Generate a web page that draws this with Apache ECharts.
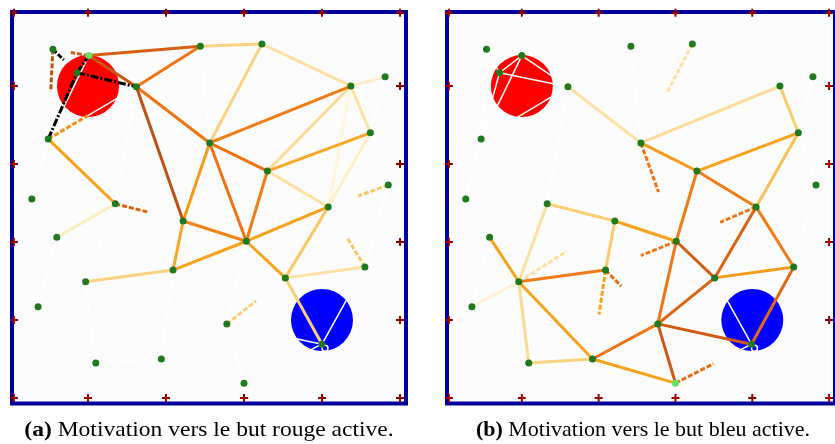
<!DOCTYPE html>
<html><head><meta charset="utf-8">
<script src="https://cdn.jsdelivr.net/npm/echarts@6/dist/echarts.min.js"></script>
<style>html,body{margin:0;padding:0;background:#fff}#c{width:835px;height:444px}</style>
</head><body><div id="c"></div>
<script>
// ---- data (world units, metres) ----
const nodesA = [[0.55,4.47],[1.01,4.39],[0.86,4.17],[1.62,3.99],[0.49,3.32],[0.28,2.55],[1.35,2.49],[2.44,4.51],[2.56,3.27],[3.23,4.54],[4.37,4.00],[4.81,4.12],[4.62,3.40],[2.22,2.27],[3.30,2.91],[4.85,2.73],[4.08,2.45],[3.03,2.01],[3.53,1.54],[4.55,1.68],[2.78,0.95],[4.00,0.69],[3.00,0.19],[0.60,2.06],[0.97,1.49],[2.09,1.64],[0.36,1.17],[1.10,0.45],[1.94,0.50]];
const nodesB = [[0.54,4.47],[1.00,4.39],[0.71,4.17],[1.60,3.99],[0.47,3.32],[0.27,2.55],[1.33,2.49],[2.42,4.51],[2.55,3.27],[3.22,4.54],[4.36,4.00],[4.79,4.12],[4.60,3.40],[2.21,2.27],[3.28,2.91],[4.83,2.73],[4.05,2.45],[3.01,2.01],[3.51,1.54],[4.54,1.68],[2.77,0.95],[3.99,0.69],[3.00,0.19],[0.58,2.06],[0.96,1.49],[2.09,1.64],[0.35,1.17],[1.09,0.45],[1.92,0.50]];
const robotA = 1;
const robotB = 22;
const goalNodeA = 21;
const goalNodeB = 21;
const goalRed = [1, 4];
const goalBlue = [4, 1];
const xCross = [0.05, 1, 2, 3, 4, 5];
const yCross = [0, 1, 2, 3, 4, 4.94];
// edges: [from, to, weight]
const edgesA = [[1,7,0.8],[7,3,0.72],[1,3,0.83],[2,3,1.0],[4,2,1.0],[2,1,1.0],[4,6,0.6],[3,8,0.72],[3,13,0.85],[8,13,0.62],[7,9,0.38],[9,8,0.38],[9,10,0.3],[10,8,0.7],[10,12,0.28],[10,14,0.33],[12,14,0.58],[8,14,0.72],[8,17,0.72],[14,17,0.7],[13,17,0.68],[17,16,0.6],[17,18,0.6],[16,18,0.45],[18,19,0.3],[25,13,0.58],[25,17,0.6],[24,25,0.38],[6,23,0.2],[14,16,0.3],[10,11,0.18],[10,16,0.12],[12,16,0.18],[18,21,0.4],
  [0,4,0],[1,4,0],[4,5,0],[5,23,0],[23,24,0],[24,26,0],[24,27,0],[27,28,0],[28,25,0],[28,20,0],[20,22,0],[22,21,0],[21,19,0],[20,21,0],[17,20,0],[15,19,0],[15,12,0],[11,12,0],[3,4,0],[3,6,0],[7,8,0],[26,23,0],[6,24,0],[15,16,0],[19,16,0]];
// partial traces: [from, to, weight, fraction]
const partialA = [[0,2,1.0,0.45],[0,4,0.85,0.47],[1,0,0.8,0.5],[4,3,0.65,0.45],[6,13,0.78,0.48],[15,16,0.45,0.5],[19,16,0.45,0.5],[20,18,0.4,0.5]];
const edgesB = [[3,8,0.28],[8,10,0.32],[10,12,0.42],[8,14,0.62],[14,12,0.6],[12,16,0.48],[14,16,0.7],[14,17,0.7],[13,17,0.6],[17,18,0.8],[18,16,0.78],[18,19,0.62],[16,19,0.7],[19,21,0.76],[18,20,0.78],[20,21,0.82],[20,22,0.82],[28,22,0.6],[28,20,0.72],[17,20,0.72],[6,13,0.4],[6,24,0.3],[23,24,0.6],[24,25,0.7],[24,28,0.6],[24,27,0.33],[27,28,0.38],[24,26,0.15],[13,25,0.42],
  [0,2,0],[1,2,0],[0,4,0],[2,4,0],[1,3,0],[2,3,0],[1,4,0],[4,3,0],[4,5,0],[5,23,0],[3,7,0],[7,9,0],[9,10,0],[10,11,0],[11,12,0],[12,15,0],[15,19,0],[18,21,0.03],[3,6,0],[7,8,0],[26,27,0],[23,26,0],[22,21,0],[20,28,0]];
const partialB = [[9,8,0.3,0.5],[8,17,0.72,0.5],[24,13,0.3,0.5],[25,28,0.6,0.5],[25,20,0.75,0.3],[22,21,0.75,0.5],[16,17,0.72,0.45],[17,25,0.72,0.5]];
const captionA = ['(a)', ' Motivation vers le but rouge active.'];
const captionB = ['(b)', ' Motivation vers le but bleu active.'];

// ---- styling ----
const ramp = [[0,'#ffffff'],[0.15,'#fff2d2'],[0.3,'#fde0a2'],[0.45,'#fcc662'],[0.6,'#f7a21a'],[0.72,'#f07414'],[0.84,'#c65412'],[0.93,'#7a3010'],[1,'#000000']];
function hex(c){return [1,3,5].map(k=>parseInt(c.substr(k,2),16));}
function rampColor(w){
  for(let k=1;k<ramp.length;k++){
    if(w<=ramp[k][0]){
      const a=ramp[k-1],b=ramp[k];const f=(w-a[0])/(b[0]-a[0]);
      const ca=hex(a[1]),cb=hex(b[1]);
      return 'rgb('+ca.map((v,m)=>Math.round(v+(cb[m]-v)*f)).join(',')+')';
    }
  }
  return ramp[ramp.length-1][1];
}
function buildLines(nodes, full, partial){
  const all=[];
  full.forEach(e=>all.push({i:e[0],j:e[1],w:e[2],t:1,p:false}));
  partial.forEach(e=>all.push({i:e[0],j:e[1],w:e[2],t:e[3],p:true}));
  all.sort((a,b)=>a.w-b.w);
  return all.map(e=>{
    const p=nodes[e.i],q=nodes[e.j];
    const end=[p[0]+(q[0]-p[0])*e.t,p[1]+(q[1]-p[1])*e.t];
    const type=e.p?[5,2]:(e.w>=0.95?[8,2,2,2]:'solid');
    return {coords:[p,end],lineStyle:{color:rampColor(e.w),width:e.w<0.05?1.5:3,type:type,opacity:1}};
  });
}
const crossPath='path://M3,0H5V3H8V5H5V8H3V5H0V3H3Z';
function crosses(){
  const out=[];
  xCross.forEach(x=>{out.push([x,yCross[0]]);out.push([x,yCross[yCross.length-1]]);});
  yCross.slice(1,-1).forEach(y=>{out.push([xCross[0],y]);out.push([xCross[xCross.length-1],y]);});
  return out;
}
function panelSeries(idx, nodes, full, partial, robot, goalNode){
  return [
    {type:'scatter',xAxisIndex:idx,yAxisIndex:idx,symbolSize:62,silent:true,z:1,
     data:[{value:goalRed,itemStyle:{color:'#ff0000',opacity:1}},{value:goalBlue,itemStyle:{color:'#0000ff',opacity:1}}]},
    {type:'lines',coordinateSystem:'cartesian2d',xAxisIndex:idx,yAxisIndex:idx,silent:true,z:3,
     data:buildLines(nodes,full,partial)},
    {type:'scatter',xAxisIndex:idx,yAxisIndex:idx,silent:true,z:4,symbol:'circle',symbolSize:6,symbolOffset:[3,4],
     itemStyle:{color:'rgba(0,0,0,0)',borderColor:'#ffffff',borderWidth:1.5,opacity:1},data:[nodes[goalNode]]},
    {type:'scatter',xAxisIndex:idx,yAxisIndex:idx,silent:true,z:5,symbolSize:7,
     data:nodes.map((p,k)=>({value:p,itemStyle:{color:k===robot?'#66e066':'#1f7a1f',opacity:1}}))},
    {type:'scatter',xAxisIndex:idx,yAxisIndex:idx,silent:true,z:6,symbol:crossPath,symbolSize:8,clip:false,
     itemStyle:{color:'#9e0000',opacity:1},data:crosses()}
  ];
}
const axisCommon={type:'value',show:false,splitLine:{show:false}};
const chart=echarts.init(document.getElementById('c'),null,{renderer:'canvas'});
const fam='Liberation Serif';
function caption(x, parts, sx){
  return {type:'text',x:x,y:430,scaleX:sx,silent:true,
    style:{text:'{b|'+parts[0]+'}{n|'+parts[1]+'}',fill:'#000',fontFamily:fam,fontSize:22,align:'center',verticalAlign:'middle',
      rich:{b:{fontFamily:fam,fontSize:22,fontWeight:'bold',fill:'#000'},n:{fontFamily:fam,fontSize:22,fontWeight:'normal',fill:'#000'}}}};
}
chart.setOption({
  animation:false,
  backgroundColor:'#ffffff',
  grid:[
    {left:12,top:12,width:394,height:391.5,show:true,backgroundColor:'#fcfcfc',borderColor:'#00009a',borderWidth:4},
    {left:447,top:12,width:394,height:391.5,show:true,backgroundColor:'#fcfcfc',borderColor:'#00009a',borderWidth:4}
  ],
  xAxis:[Object.assign({gridIndex:0,min:0.0256,max:5.077},axisCommon),Object.assign({gridIndex:1,min:0.0256,max:5.077},axisCommon)],
  yAxis:[Object.assign({gridIndex:0,min:-0.0705,max:4.949},axisCommon),Object.assign({gridIndex:1,min:-0.0705,max:4.949},axisCommon)],
  series:[].concat(panelSeries(0,nodesA,edgesA,partialA,robotA,goalNodeA),panelSeries(1,nodesB,edgesB,partialB,robotB,goalNodeB)),
  graphic:[caption(209,captionA,1.07),caption(643,captionB,1)]
});
</script></body></html>
